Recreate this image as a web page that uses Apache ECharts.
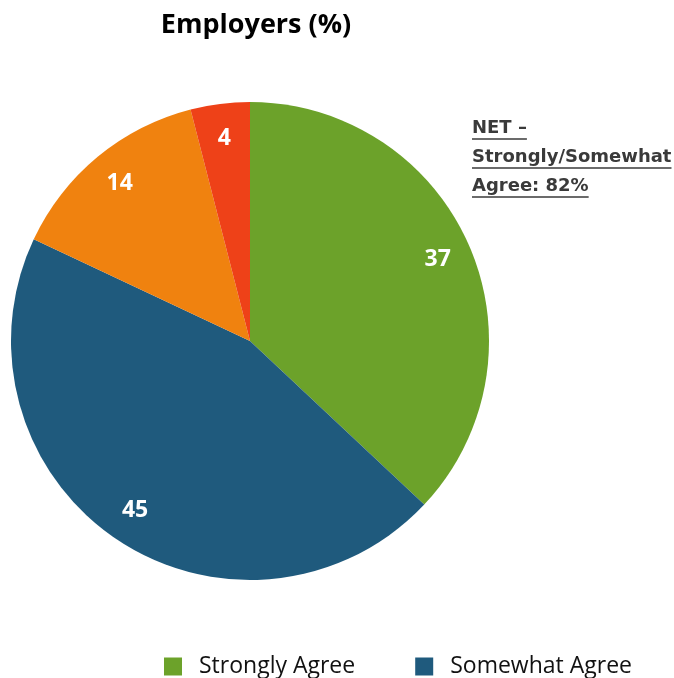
<!DOCTYPE html>
<html>
<head>
<meta charset="utf-8">
<script src="https://cdn.jsdelivr.net/npm/echarts@6/dist/echarts.min.js"></script>
<style>
  html, body { margin: 0; padding: 0; background: #fff; }
  #chart { width: 674px; height: 678px; }
</style>
</head>
<body>
<div id="chart"></div>
<script>
const categories = ['Strongly Agree', 'Somewhat Agree', 'Somewhat Disagree', 'Strongly Disagree']
const values = [37, 45, 14, 4]
const colors = ['#6ca22a', '#1f5a7d', '#f0820f', '#ee4118']
const legendNames = ['Strongly Agree', 'Somewhat Agree']
const netLines = ['NET –', 'Strongly/Somewhat', 'Agree: 82%']

const font = '"Open Sans", "Liberation Sans", sans-serif'
const netFont = 'bold 18px "DejaVu Sans", sans-serif'
const chart = echarts.init(document.getElementById('chart'))

const pieData = categories.map((name, i) => ({
  name,
  value: values[i],
  itemStyle: { color: colors[i] }
}))

// underlined annotation on the right
const netGraphic = []
const measure = document.createElement('canvas').getContext('2d')
measure.font = netFont
netLines.forEach((t, i) => {
  const top = 119 + i * 29
  netGraphic.push({
    type: 'text',
    left: 472,
    top: top,
    style: { text: t, font: netFont, fill: '#3a3a3a' }
  })
  const width = measure.measureText(t).width
  netGraphic.push({
    type: 'line',
    shape: { x1: 472, y1: top + 20, x2: 472 + width, y2: top + 20 },
    style: { stroke: '#3a3a3a', lineWidth: 1.5 }
  })
})

chart.setOption({
  animation: false,
  title: {
    text: 'Employers (%)',
    left: 251,
    top: 7,
    textAlign: 'center',
    textStyle: { fontFamily: font, fontSize: 27, fontWeight: 'bold', color: '#000' }
  },
  legend: {
    data: legendNames,
    left: 164,
    top: 655,
    padding: 0,
    itemWidth: 18,
    itemHeight: 18,
    itemGap: 60,
    icon: 'rect',
    textStyle: { fontFamily: font, fontSize: 23, color: '#111', padding: [0, 0, 0, 12] }
  },
  graphic: netGraphic,
  series: [
    {
      type: 'pie',
      center: [250, 341],
      radius: [0, 239],
      startAngle: 90,
      clockwise: true,
      label: { show: false },
      labelLine: { show: false },
      emphasis: { disabled: true },
      data: pieData
    },
    {
      // transparent ring that only carries the value labels
      type: 'pie',
      center: [250, 341],
      radius: [164, 239],
      startAngle: 90,
      clockwise: true,
      silent: true,
      itemStyle: { color: 'rgba(0,0,0,0)' },
      label: {
        show: true,
        position: 'inside',
        formatter: '{c}',
        color: '#fff',
        fontFamily: font,
        fontSize: 23,
        fontWeight: 'bold'
      },
      labelLine: { show: false },
      emphasis: { disabled: true },
      data: categories.map((name, i) => ({ name, value: values[i] }))
    }
  ]
})
</script>
</body>
</html>
